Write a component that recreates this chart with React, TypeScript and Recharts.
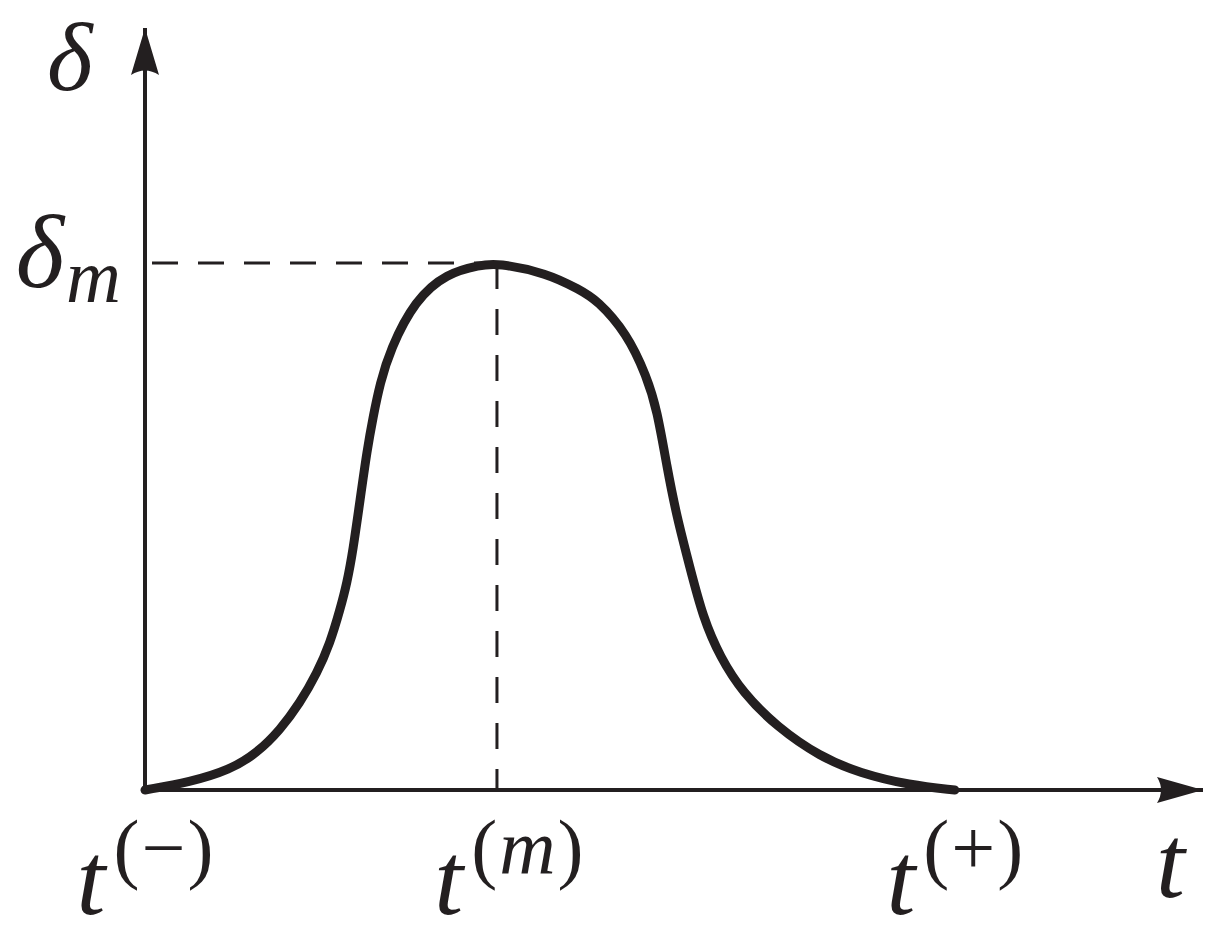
import { LineChart, Line, XAxis, YAxis, ReferenceLine, ReferenceDot, Label } from 'recharts'

// t measured so that t(m) - t(-) = 1, delta measured so that delta_m = 1
const tValues = [0, 0.128, 0.241, 0.318, 0.384, 0.44, 0.489, 0.526, 0.554, 0.574, 0.591, 0.611, 0.631, 0.648, 0.668, 0.696,
  0.767, 0.858, 0.952, 1.0, 1.142, 1.236, 1.284, 1.369, 1.426, 1.455, 1.483, 1.511, 1.548, 1.585, 1.634, 1.699, 1.795,
  1.918, 2.031, 2.173, 2.301]
const deltaValues = [0, 0.015, 0.038, 0.07, 0.114, 0.165, 0.222, 0.279, 0.342, 0.393, 0.455, 0.55, 0.645, 0.708, 0.772, 0.835,
  0.93, 0.981, 0.996, 1.0, 0.981, 0.949, 0.93, 0.867, 0.784, 0.721, 0.613, 0.518, 0.423, 0.328, 0.252, 0.184, 0.12,
  0.063, 0.032, 0.009, 0]

const tTicks = [0, 1, 2.301]
const tTickSup = ['−', 'm', '+']
const deltaTicks = [1]
const tMax = 3.006
const deltaMax = 1.446

const data = tValues.map((t, i) => ({ t, delta: deltaValues[i] }))

const ink = '#231f20'
const mathFont = '"Liberation Serif", "Times New Roman", serif'

const TTick = (props: any) => {
  const { x, y, index } = props
  const sup = tTickSup[index]
  const shift = index === 1 ? 12 : 0
  return (
    <text x={x + shift} y={y + 122} textAnchor="middle" fill={ink} fontFamily={mathFont} fontSize={104}>
      <tspan fontStyle="italic">t</tspan>
      <tspan fontSize={78} dy={-40} dx={8}>(</tspan>
      <tspan fontSize={78} dx={2} fontStyle={sup === 'm' ? 'italic' : 'normal'}>{sup}</tspan>
      <tspan fontSize={78} dx={2}>)</tspan>
    </text>
  )
}

const DeltaTick = (props: any) => {
  const { y } = props
  return (
    <text x={121} y={y + 24} textAnchor="end" fill={ink} fontFamily={mathFont} fontSize={104} fontStyle="italic">
      <tspan>δ</tspan>
      <tspan fontSize={76} dy={15} dx={2}>m</tspan>
    </text>
  )
}

const ArrowRight = (props: any) => {
  const { cx, cy } = props
  return <path d={`M${cx},${cy} L${cx - 46},${cy - 13} Q${cx - 38},${cy} ${cx - 46},${cy + 13} Z`} fill={ink} />
}

const ArrowUp = (props: any) => {
  const { cx, cy } = props
  return <path d={`M${cx},${cy} L${cx - 14},${cy + 47} Q${cx},${cy + 38} ${cx + 14},${cy + 47} Z`} fill={ink} />
}

export default function App() {
  return (
    <div style={{ position: 'absolute', left: 0, top: 0, background: '#fff' }}>
      <LineChart width={1226} height={942} data={data} margin={{ top: 28, right: 23, left: 0, bottom: 0 }}>
        <XAxis
          type="number"
          dataKey="t"
          domain={[0, tMax]}
          ticks={tTicks}
          tick={<TTick />}
          tickLine={false}
          tickSize={0}
          height={152}
          axisLine={{ stroke: ink, strokeWidth: 4 }}
          interval={0}
        >
          <Label
            content={(p: any) => (
              <text x={p.viewBox.x + p.viewBox.width - 47} y={897} fill={ink} fontFamily={mathFont} fontSize={104} fontStyle="italic">
                t
              </text>
            )}
          />
        </XAxis>
        <YAxis
          type="number"
          domain={[0, deltaMax]}
          ticks={deltaTicks}
          tick={<DeltaTick />}
          tickLine={false}
          tickSize={0}
          width={145}
          axisLine={{ stroke: ink, strokeWidth: 4 }}
          interval={0}
        >
          <Label
            content={() => (
              <text x={47} y={90} fill={ink} fontFamily={mathFont} fontSize={98} fontStyle="italic">
                δ
              </text>
            )}
          />
        </YAxis>
        <ReferenceLine segment={[{ x: 0, y: 1 }, { x: 1, y: 1 }]} stroke={ink} strokeWidth={3} strokeDasharray="26 20" strokeDashoffset={-7} ifOverflow="visible" />
        <ReferenceLine segment={[{ x: 1, y: 1 }, { x: 1, y: 0 }]} stroke={ink} strokeWidth={3} strokeDasharray="26 20" ifOverflow="visible" />
        <ReferenceDot x={tMax} y={0} r={1} shape={<ArrowRight />} ifOverflow="visible" />
        <ReferenceDot x={0} y={deltaMax} r={1} shape={<ArrowUp />} ifOverflow="visible" />
        <Line
          type="basis"
          dataKey="delta"
          stroke={ink}
          strokeWidth={9}
          strokeLinecap="round"
          dot={false}
          activeDot={false}
          isAnimationActive={false}
        />
      </LineChart>
    </div>
  )
}
